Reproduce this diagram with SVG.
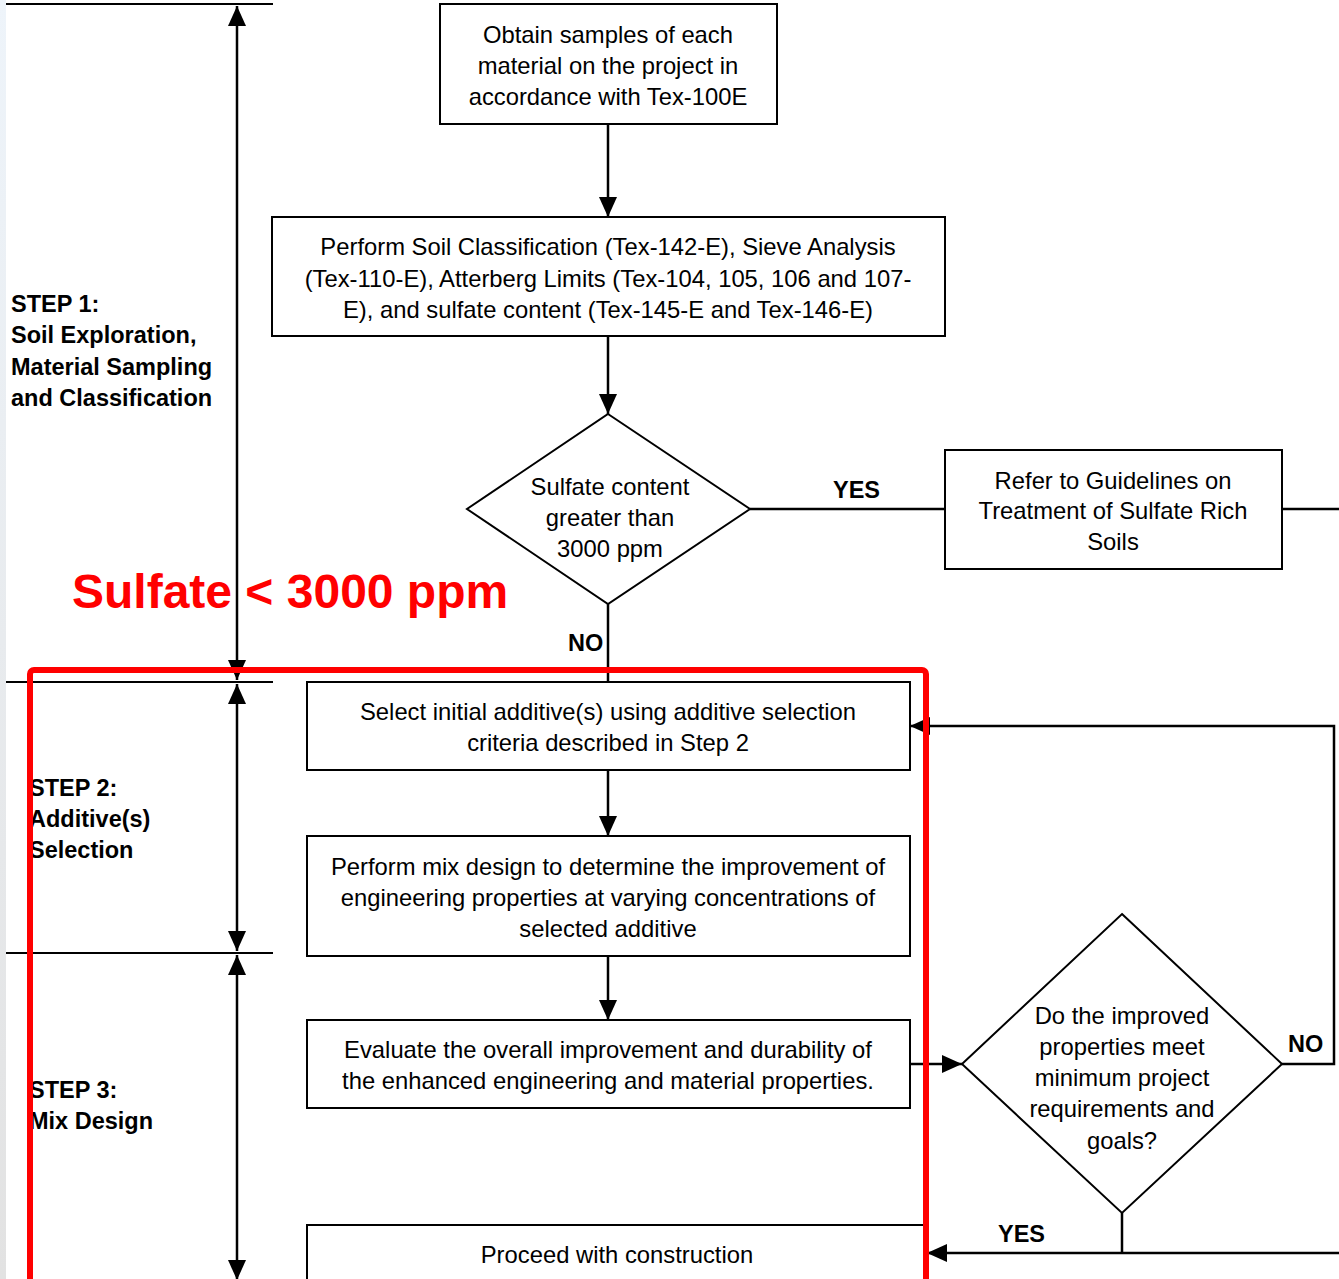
<svg xmlns="http://www.w3.org/2000/svg" width="1339" height="1279" viewBox="0 0 1339 1279">
<defs>
<linearGradient id="edge" x1="0" y1="0" x2="0" y2="1">
<stop offset="0" stop-color="#eef4fa"/>
<stop offset="1" stop-color="#e2e2e2"/>
</linearGradient>
<marker id="ah" markerUnits="userSpaceOnUse" markerWidth="20" markerHeight="18" viewBox="0 0 20 18" refX="20" refY="9" orient="auto-start-reverse">
<path d="M0,0 L20,9 L0,18 Z" fill="#000"/>
</marker>
</defs>
<style>
.box{fill:#fff;stroke:#000;stroke-width:2}
.t{font-family:"Liberation Sans",Arial,sans-serif;font-size:23.8px;fill:#000;text-anchor:middle}
.b{font-family:"Liberation Sans",Arial,sans-serif;font-size:23.5px;font-weight:bold;fill:#000}
.c{fill:none;stroke:#000;stroke-width:2.5}
.s{fill:none;stroke:#000;stroke-width:2}
</style>
<rect x="0" y="0" width="1339" height="1279" fill="#fff"/>
<rect x="0" y="0" width="6" height="1279" fill="url(#edge)"/>

<text x="72" y="608" style="font-family:'Liberation Sans',Arial,sans-serif;font-size:48px;font-weight:bold;fill:#ff0000">Sulfate &lt; 3000 ppm</text>

<g id="steps">
<line class="s" x1="6" y1="4" x2="273" y2="4"/>
<line class="s" x1="6" y1="682" x2="273" y2="682"/>
<line class="s" x1="6" y1="953" x2="273" y2="953"/>
<path class="c" d="M237,6 L237,680" marker-start="url(#ah)" marker-end="url(#ah)"/>
<path class="c" d="M237,684 L237,951" marker-start="url(#ah)" marker-end="url(#ah)"/>
<path class="c" d="M237,955 L237,1280" marker-start="url(#ah)" marker-end="url(#ah)"/>
<text class="b" x="11"><tspan x="11" y="312">STEP 1:</tspan><tspan x="11" y="343">Soil Exploration,</tspan><tspan x="11" y="375">Material Sampling</tspan><tspan x="11" y="406">and Classification</tspan></text>
<text class="b"><tspan x="29" y="796">STEP 2:</tspan><tspan x="29" y="827">Additive(s)</tspan><tspan x="29" y="858">Selection</tspan></text>
<text class="b"><tspan x="29" y="1098">STEP 3:</tspan><tspan x="29" y="1129">Mix Design</tspan></text>
</g>

<g id="connectors">
<path class="c" d="M608,124 L608,217" marker-end="url(#ah)"/>
<path class="c" d="M608,336 L608,414" marker-end="url(#ah)"/>
<path class="c" d="M750,509 L945,509"/>
<path class="c" d="M1282,509 L1339,509"/>
<path class="c" d="M608,604 L608,682"/>
<path class="c" d="M608,770 L608,836" marker-end="url(#ah)"/>
<path class="c" d="M608,956 L608,1020" marker-end="url(#ah)"/>
<path class="c" d="M910,1064 L962,1064" marker-end="url(#ah)"/>
<path class="c" d="M1282,1064 L1334,1064 L1334,726 L910,726" marker-end="url(#ah)"/>
<path class="c" d="M1122,1213 L1122,1253"/>
<path class="c" d="M1339,1253 L927,1253" marker-end="url(#ah)"/>
<text class="b" x="833" y="498">YES</text>
<text class="b" x="568" y="651">NO</text>
<text class="b" x="1288" y="1052">NO</text>
<text class="b" x="998" y="1242">YES</text>
</g>

<g id="n1">
<rect class="box" x="440" y="4" width="337" height="120"/>
<text class="t"><tspan x="608" y="43">Obtain samples of each</tspan><tspan x="608" y="74">material on the project in</tspan><tspan x="608" y="105">accordance with Tex-100E</tspan></text>
</g>
<g id="n2">
<rect class="box" x="272" y="217" width="673" height="119"/>
<text class="t"><tspan x="608" y="255">Perform Soil Classification (Tex-142-E), Sieve Analysis</tspan><tspan x="608" y="287">(Tex-110-E), Atterberg Limits (Tex-104, 105, 106 and 107-</tspan><tspan x="608" y="318">E), and sulfate content (Tex-145-E and Tex-146-E)</tspan></text>
</g>
<g id="d1">
<polygon class="box" points="608,414 750,509 608,604 467,509"/>
<text class="t"><tspan x="610" y="495">Sulfate content</tspan><tspan x="610" y="526">greater than</tspan><tspan x="610" y="557">3000 ppm</tspan></text>
</g>
<g id="n3">
<rect class="box" x="945" y="450" width="337" height="119"/>
<text class="t"><tspan x="1113" y="489">Refer to Guidelines on</tspan><tspan x="1113" y="519">Treatment of Sulfate Rich</tspan><tspan x="1113" y="550">Soils</tspan></text>
</g>
<g id="n4">
<rect class="box" x="307" y="682" width="603" height="88"/>
<text class="t"><tspan x="608" y="720">Select initial additive(s) using additive selection</tspan><tspan x="608" y="751">criteria described in Step 2</tspan></text>
</g>
<g id="n5">
<rect class="box" x="307" y="836" width="603" height="120"/>
<text class="t"><tspan x="608" y="875">Perform mix design to determine the improvement of</tspan><tspan x="608" y="906">engineering properties at varying concentrations of</tspan><tspan x="608" y="937">selected additive</tspan></text>
</g>
<g id="n6">
<rect class="box" x="307" y="1020" width="603" height="88"/>
<text class="t"><tspan x="608" y="1058">Evaluate the overall improvement and durability of</tspan><tspan x="608" y="1089">the enhanced engineering and material properties.</tspan></text>
</g>
<g id="d2">
<polygon class="box" points="1122,914 1282,1064 1122,1213 962,1064"/>
<text class="t"><tspan x="1122" y="1024">Do the improved</tspan><tspan x="1122" y="1055">properties meet</tspan><tspan x="1122" y="1086">minimum project</tspan><tspan x="1122" y="1117">requirements and</tspan><tspan x="1122" y="1149">goals?</tspan></text>
</g>
<g id="n7">
<rect class="box" x="307" y="1225" width="617" height="70"/>
<text class="t"><tspan x="617" y="1263">Proceed with construction</tspan></text>
</g>

<rect x="30" y="670" width="896" height="615" rx="4" fill="none" stroke="#ff0000" stroke-width="6"/>
</svg>
